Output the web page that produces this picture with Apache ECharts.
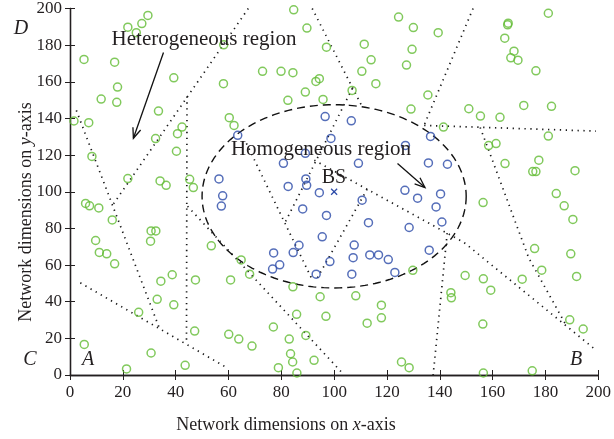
<!DOCTYPE html>
<html><head><meta charset="utf-8">
<script src="https://cdn.jsdelivr.net/npm/echarts@6/dist/echarts.min.js"></script>
<style>html,body{margin:0;padding:0;background:#fff}#c{width:614px;height:439px}</style>
</head><body><div id="c"></div>
<script>
// ---------- data ----------
const axisMin = 0, axisMax = 200, axisStep = 20;

const heterogeneousNodes = [
  [29.5,196.2],[27.2,191.8],[21.9,189.8],[25.1,186.8],[58.2,180.2],[5.3,172.2],[16.9,170.7],[39.3,162.2],[58.1,159],[18.0,157.1],
  [11.8,150.6],[17.7,148.8],[33.5,144],[1.5,138.6],[7.1,137.7],[60.3,140.4],[62.1,136.2],[42.4,135.3],[40.7,131.7],[32.4,129],
  [40.3,122.1],[8.3,119.3],[21.9,107.2],[34.1,105.9],[36.4,103.5],[45.3,106.8],[46.7,102.3],
  [84.7,199.3],[89.7,189.3],[124.4,195.3],[130,189.6],[111.4,180.5],[97.1,178.9],[129.5,177.7],[114,172],[127.4,169.1],
  [72.9,165.7],[79.9,165.7],[84.4,165],[110.5,165.7],[94.4,161.7],[93.1,160.2],[115.8,159],[89.1,154.4],[106.8,155.3],
  [82.5,149.9],[95.8,150.4],[129.1,145.1],
  [181.1,197.4],[139.4,186.8],[165.9,192],[165.7,191.1],[164.6,183.8],[168.1,176.7],[166.9,173.1],[169.6,171.8],[176.4,166],
  [135.5,152.8],[151,145.3],[171.8,147.1],[182.3,146.6],[155.4,141.3],[162.8,140.6],[141.4,135.3],[181.1,130.4],[161.3,126.3],
  [158.5,125.2],[164.7,115.4],[177.5,117.2],[175.2,111],[176.4,111],[191.2,111.5],[184.1,99],
  [5.9,93.6],[7.4,92.3],[10.9,91.2],[16,84.6],[30.7,78.6],[32.5,78.6],[30.5,73],[9.7,73.4],[11.1,66.9],[13.9,66.1],[16.9,60.7],
  [53.5,70.5],[64.8,62.8],[38.7,54.7],[34.4,51.2],[47.5,51.9],[60.8,51.9],[33,41.3],[39.3,38.3],[26,34.2],[47.2,24],[60.1,22.2],
  [63.9,19.6],[5.4,16.7],[30.7,12],[43.6,5.3],[21.4,3.3],
  [68,55],[84.4,48.1],[94.7,42.7],[108.2,43.2],[117.9,38.1],[117.9,31.2],[112.5,28.3],[85.8,33.1],[96.9,32],[77,26.2],[89.3,21.6],
  [83,19.6],[68.9,15.8],[83.5,11.6],[84.3,7.1],[92.4,8],[78.9,4],[85.9,1.1],[125.5,7.1],[128.4,4],[129.8,57.1],
  [156.4,94.1],[187.1,92.3],[190.4,84.9],[175.9,69],[189.6,66.1],[178.6,57.2],[191.8,53.8],[149.6,54.3],[156.5,52.5],[171.2,52.3],
  [159.3,46.3],[144.2,44.9],[144.4,42.1],[156.3,27.8],[189.2,30.1],[194.3,25.1],[156.5,1.1],[175,2.3]
];

const homogeneousNodes = [
  [63.5,130.8],[56.4,107],[57.8,97.8],[57.3,92.2],[96.6,141],[106.5,138.7],[98.8,129.1],[127,125.3],[89.1,121],[80.8,115.5],
  [109.2,115.5],[136.5,130.2],[135.7,115.7],[142.9,115],[82.6,102.9],[89.3,107],[89.6,103.5],[94.4,99.5],[126.8,100.8],[131.6,96.5],
  [140.3,98.8],[138.6,91.7],[140.8,83.5],[110.6,95.4],[88.1,90.6],[97.1,87.1],[113,83.1],[128.4,80.5],[95.5,75.4],[86.7,70.8],
  [84.5,66.8],[77.1,66.6],[107.6,70.9],[107.2,64],[113.5,65.5],[116.8,65.5],[120.5,63],[98.4,61.9],[79.4,60.1],[76.7,57.8],
  [93.2,55],[106.7,55],[123,56],[136,68.1]
];

const baseStation = [100, 100];
const regionCenter = [100, 97.5];
const regionRadius = 50;

const boundaries = [
  [[2.4,144.4],[33.9,25.3]],
  [[67.5,200],[16.1,92.6]],
  [[3.9,50.3],[59.6,3.8]],
  [[44.3,152],[44.1,16.9]],
  [[44.5,92.1],[103.1,1.1]],
  [[91.7,200],[110.2,147.6]],
  [[106.9,156.4],[81.5,83.4]],
  [[66.8,126.4],[91.4,52.9]],
  [[112.5,101.4],[93.2,51.8]],
  [[92.5,117.2],[149.2,72.3],[199.1,13.6]],
  [[152.6,200],[134.1,136.4]],
  [[134.1,136.2],[199.1,133.1]],
  [[155.3,135.1],[173.7,63.8],[187.8,27.2]],
  [[142.8,77.4],[137.5,0]]
];

const arrows = [
  [35.4,176.0,24.0,129.2],
  [124.0,115.4,134.4,102.3]
];

// ---------- chart ----------
const FONT = '"Liberation Serif", "DejaVu Serif", serif';
const INK = '#231f20';
const GREEN = '#62bb33';
const BLUE = '#2b4aa8';

const chart = echarts.init(document.getElementById('c'), null, {renderer: 'canvas'});

const axisCommon = {
  type: 'value', min: axisMin, max: axisMax, interval: axisStep,
  axisLine: {show: true, lineStyle: {color: INK, width: 1.3}},
  axisTick: {show: true, inside: true, length: 5, lineStyle: {color: INK, width: 1}},
  splitLine: {show: false}
};

const boundarySeries = boundaries.map(pts => ({
  type: 'line', data: pts, showSymbol: false, symbol: 'none', silent: true, z: 1,
  lineStyle: {color: '#1a1a1a', width: 1.7, type: [1.3, 4.6], cap: 'butt'}
}));

const option = {
  animation: false,
  grid: {left: 70, right: 15, top: 8, bottom: 64, containLabel: false},
  xAxis: [
    Object.assign({}, axisCommon, {position: 'bottom',
      axisLabel: {margin: 9, color: INK, fontFamily: FONT, fontSize: 17}}),
    Object.assign({}, axisCommon, {position: 'top', axisLabel: {show: false}})
  ],
  yAxis: [
    Object.assign({}, axisCommon, {position: 'left',
      axisLabel: {margin: 8, color: INK, fontFamily: FONT, fontSize: 17}}),
    Object.assign({}, axisCommon, {position: 'right', axisLabel: {show: false}})
  ],
  series: [
    ...boundarySeries,
    {
      type: 'custom', z: 2, silent: true,
      data: [[regionCenter[0], regionCenter[1], regionRadius]],
      renderItem: function (params, api) {
        const c = api.coord([api.value(0), api.value(1)]);
        const s = api.size([api.value(2), api.value(2)]);
        const pts = [];
        for (let i = 0; i <= 160; i++) {
          const a = i / 160 * Math.PI * 2;
          pts.push([c[0] + s[0] * Math.cos(a), c[1] + s[1] * Math.sin(a)]);
        }
        return {type: 'polyline', shape: {points: pts},
          style: {fill: 'none', stroke: '#111', lineWidth: 1.4, lineDash: [8, 5]}};
      }
    },
    {
      type: 'scatter', z: 3, data: heterogeneousNodes, symbol: 'circle', symbolSize: 8,
      itemStyle: {color: 'rgba(255,255,255,0)', borderColor: GREEN, borderWidth: 1.5}
    },
    {
      type: 'scatter', z: 3, data: homogeneousNodes, symbol: 'circle', symbolSize: 8,
      itemStyle: {color: 'rgba(255,255,255,0)', borderColor: BLUE, borderWidth: 1.5}
    },
    {
      type: 'custom', z: 4, silent: true, data: [baseStation],
      renderItem: function (params, api) {
        const p = api.coord([api.value(0), api.value(1)]);
        const h = 3;
        return {type: 'group', children: [
          {type: 'line', shape: {x1: p[0]-h, y1: p[1]-h, x2: p[0]+h, y2: p[1]+h}, style: {stroke: BLUE, lineWidth: 1.2}},
          {type: 'line', shape: {x1: p[0]-h, y1: p[1]+h, x2: p[0]+h, y2: p[1]-h}, style: {stroke: BLUE, lineWidth: 1.2}}
        ]};
      }
    },
    {
      type: 'custom', z: 5, silent: true, data: arrows,
      renderItem: function (params, api) {
        const a = api.coord([api.value(0), api.value(1)]);
        const b = api.coord([api.value(2), api.value(3)]);
        const ang = Math.atan2(b[1] - a[1], b[0] - a[0]);
        const L = 11, w = 0.38;
        const h1 = [b[0] - L * Math.cos(ang - w), b[1] - L * Math.sin(ang - w)];
        const h2 = [b[0] - L * Math.cos(ang + w), b[1] - L * Math.sin(ang + w)];
        return {type: 'group', children: [
          {type: 'line', shape: {x1: a[0], y1: a[1], x2: b[0], y2: b[1]}, style: {stroke: '#111', lineWidth: 1.3}},
          {type: 'polyline', shape: {points: [h1, b, h2]}, style: {stroke: '#111', lineWidth: 1.3, fill: 'none'}}
        ]};
      }
    }
  ],
  graphic: [
    {type: 'text', x: 204, y: 39, z: 10, style: {text: 'Heterogeneous region', font: '21px ' + FONT, fill: INK, align: 'center', verticalAlign: 'middle'}},
    {type: 'text', x: 321, y: 149, z: 10, style: {text: 'Homogeneous region', font: '21px ' + FONT, fill: INK, align: 'center', verticalAlign: 'middle'}},
    {type: 'text', x: 334, y: 178, z: 10, style: {text: 'BS', font: '20px ' + FONT, fill: INK, align: 'center', verticalAlign: 'middle'}},
    {type: 'text', x: 21, y: 29, z: 10, style: {text: 'D', font: 'italic 20px ' + FONT, fill: INK, align: 'center', verticalAlign: 'middle'}},
    {type: 'text', x: 30, y: 360, z: 10, style: {text: 'C', font: 'italic 20px ' + FONT, fill: INK, align: 'center', verticalAlign: 'middle'}},
    {type: 'text', x: 88, y: 360, z: 10, style: {text: 'A', font: 'italic 20px ' + FONT, fill: INK, align: 'center', verticalAlign: 'middle'}},
    {type: 'text', x: 576, y: 360, z: 10, style: {text: 'B', font: 'italic 20px ' + FONT, fill: INK, align: 'center', verticalAlign: 'middle'}},
    {type: 'text', x: 286, y: 425, z: 10, style: {
      text: 'Network dimensions on {i|x}-axis', font: '18px ' + FONT, fill: INK, align: 'center', verticalAlign: 'middle',
      rich: {i: {fontStyle: 'italic', fontSize: 18, fontFamily: FONT, fill: INK}}}},
    {type: 'text', x: 26, y: 212, rotation: Math.PI / 2, z: 10, style: {
      text: 'Network dimensions on {i|y}-axis', font: '18px ' + FONT, fill: INK, align: 'center', verticalAlign: 'middle',
      rich: {i: {fontStyle: 'italic', fontSize: 18, fontFamily: FONT, fill: INK}}}}
  ]
};
chart.setOption(option);
</script>
</body></html>
